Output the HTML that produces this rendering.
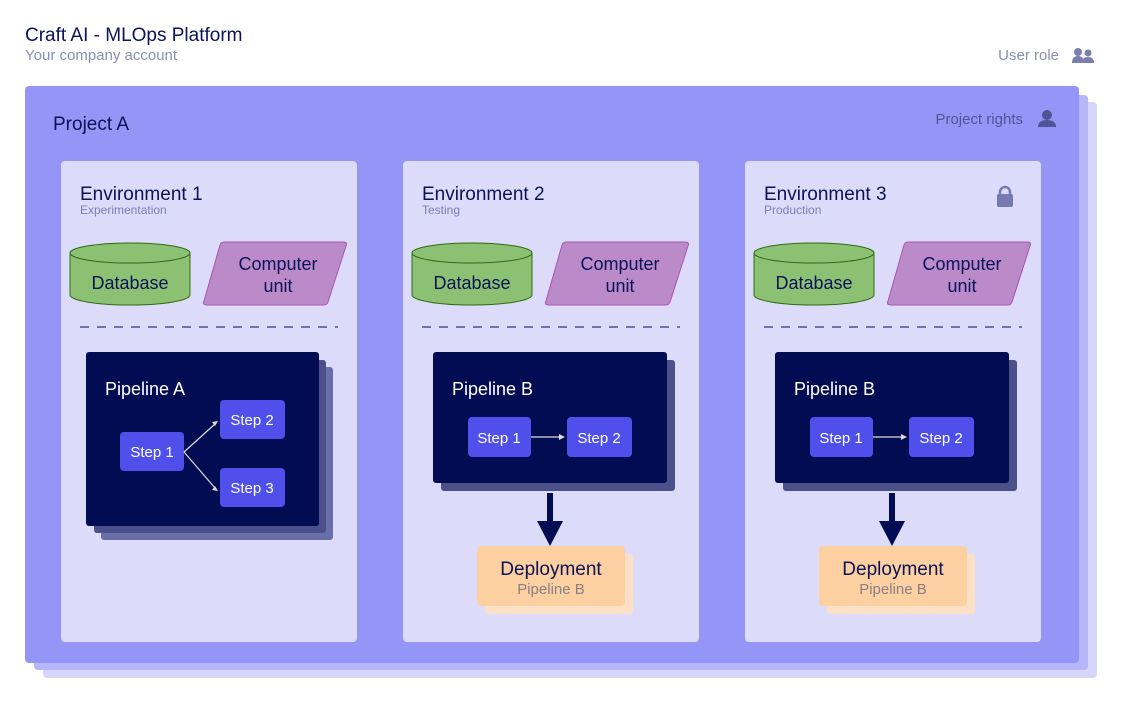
<!DOCTYPE html>
<html><head><meta charset="utf-8"><style>
html,body{margin:0;padding:0;background:#fff;}
svg{display:block;font-family:"Liberation Sans",sans-serif;}
</style></head><body>
<svg width="1125" height="710" viewBox="0 0 1125 710" xmlns="http://www.w3.org/2000/svg">
<text x="25" y="41" font-size="19" fill="#0b1257">Craft AI - MLOps Platform</text>
<text x="25" y="60" font-size="15" fill="#8a8eb8">Your company account</text>
<text x="1059" y="60" font-size="15" fill="#8a8eb8" text-anchor="end">User role</text>
<g fill="#7a7fb0"><circle cx="1078" cy="52" r="4"/><path d="M1072 63 q0-7 6-7 q6 0 6 7z"/><circle cx="1088" cy="53" r="3.5"/><path d="M1082 63 q0-6 6-6 q6 0 6 6z"/></g>

<rect x="43" y="102" width="1054" height="576" rx="4" fill="#d6d6fb"/>
<rect x="34" y="95" width="1054" height="575" rx="4" fill="#b6b6fa"/>
<rect x="25" y="86" width="1054" height="577" rx="4" fill="#9595f7"/>
<text x="53" y="130" font-size="19" fill="#0b1257">Project A</text>
<text x="1023" y="124" font-size="15" fill="#4f5499" text-anchor="end">Project rights</text>
<g fill="#4f5499"><circle cx="1047" cy="115" r="5"/><path d="M1038 127 q0-7 9-7 q9 0 9 7z"/></g>

<g id="e1">
<rect x="61" y="161" width="296" height="481" rx="4" fill="#dcdcfa"/>
<text x="80" y="200" font-size="19" fill="#0b1257">Environment 1</text>
<text x="80" y="214" font-size="12" fill="#7a7fb0">Experimentation</text>
<path d="M70 253 v42 a60 10 0 0 0 120 0 v-42" fill="#8cc174" stroke="#2f6b12"/>
<ellipse cx="130" cy="253" rx="60" ry="10" fill="#8cc174" stroke="#2f6b12"/>
<text x="130" y="289" font-size="18" fill="#0b1257" text-anchor="middle">Database</text>
<path d="M224 242 H343 q5 0 3 4 L328 302 q-1 3 -4 3 H207 q-5 0 -3 -4 L220 245 q1 -3 4 -3z" fill="#bb8ac8" stroke="#a855b5"/>
<text x="278" y="270" font-size="18" fill="#0b1257" text-anchor="middle">Computer</text>
<text x="278" y="292" font-size="18" fill="#0b1257" text-anchor="middle">unit</text>
<line x1="80" y1="327" x2="338" y2="327" stroke="#4a4f8f" stroke-width="1.5" stroke-dasharray="9 8"/>
</g>
<use href="#e1" x="342"/>
<use href="#e1" x="684"/>
<rect x="403" y="180" width="200" height="40" fill="#dcdcfa"/>
<text x="422" y="200" font-size="19" fill="#0b1257">Environment 2</text>
<text x="422" y="214" font-size="12" fill="#7a7fb0">Testing</text>
<rect x="745" y="180" width="200" height="40" fill="#dcdcfa"/>
<text x="764" y="200" font-size="19" fill="#0b1257">Environment 3</text>
<text x="764" y="214" font-size="12" fill="#7a7fb0">Production</text>
<g fill="#767ab0"><rect x="997" y="194" width="16" height="13" rx="2"/><path d="M1000 195 v-3 a5 5 0 0 1 10 0 v3" fill="none" stroke="#767ab0" stroke-width="2.5"/></g>

<!-- Pipeline A -->
<rect x="101" y="367" width="232" height="173" rx="3" fill="#6b6fa8"/>
<rect x="94" y="360" width="232" height="173" rx="3" fill="#4b4f8a"/>
<rect x="86" y="352" width="233" height="174" rx="3" fill="#020c52"/>
<text x="105" y="395" font-size="18" fill="#fff">Pipeline A</text>
<rect x="120" y="432" width="64" height="39" rx="4" fill="#4f4fec"/>
<rect x="220" y="400" width="65" height="39" rx="4" fill="#4f4fec"/>
<rect x="220" y="468" width="65" height="39" rx="4" fill="#4f4fec"/>
<text x="152" y="457" font-size="15" fill="#fff" text-anchor="middle">Step 1</text>
<text x="252" y="425" font-size="15" fill="#fff" text-anchor="middle">Step 2</text>
<text x="252" y="493" font-size="15" fill="#fff" text-anchor="middle">Step 3</text>
<path d="M184 452 L215 424 M184 452 L215 488" stroke="#ddd" stroke-width="1.2" fill="none"/>
<path d="M218 421 l-6 1 l3 4z M218 491 l-6 -1 l3 -4z" fill="#ddd"/>

<g id="pb">
<rect x="441" y="360" width="234" height="131" rx="3" fill="#4b4f8a"/>
<rect x="433" y="352" width="234" height="131" rx="3" fill="#020c52"/>
<text x="452" y="395" font-size="18" fill="#fff">Pipeline B</text>
<rect x="468" y="417" width="63" height="40" rx="4" fill="#4f4fec"/>
<rect x="567" y="417" width="65" height="40" rx="4" fill="#4f4fec"/>
<text x="499" y="443" font-size="15" fill="#fff" text-anchor="middle">Step 1</text>
<text x="599" y="443" font-size="15" fill="#fff" text-anchor="middle">Step 2</text>
<line x1="531" y1="437" x2="560" y2="437" stroke="#ddd" stroke-width="1.2"/>
<path d="M565 437 l-6 -3 v6z" fill="#ddd"/>
<rect x="547" y="493" width="6" height="30" fill="#020c52"/>
<path d="M537 521 h26 l-13 25z" fill="#020c52"/>
<rect x="485" y="554" width="148" height="60" rx="4" fill="#fbe0c6"/>
<rect x="477" y="546" width="148" height="60" rx="4" fill="#fdd0a2"/>
<text x="551" y="575" font-size="19" fill="#0b1257" text-anchor="middle">Deployment</text>
<text x="551" y="594" font-size="15" fill="#8a7f86" text-anchor="middle">Pipeline B</text>
</g>
<use href="#pb" x="342"/>
</svg>
</body></html>
